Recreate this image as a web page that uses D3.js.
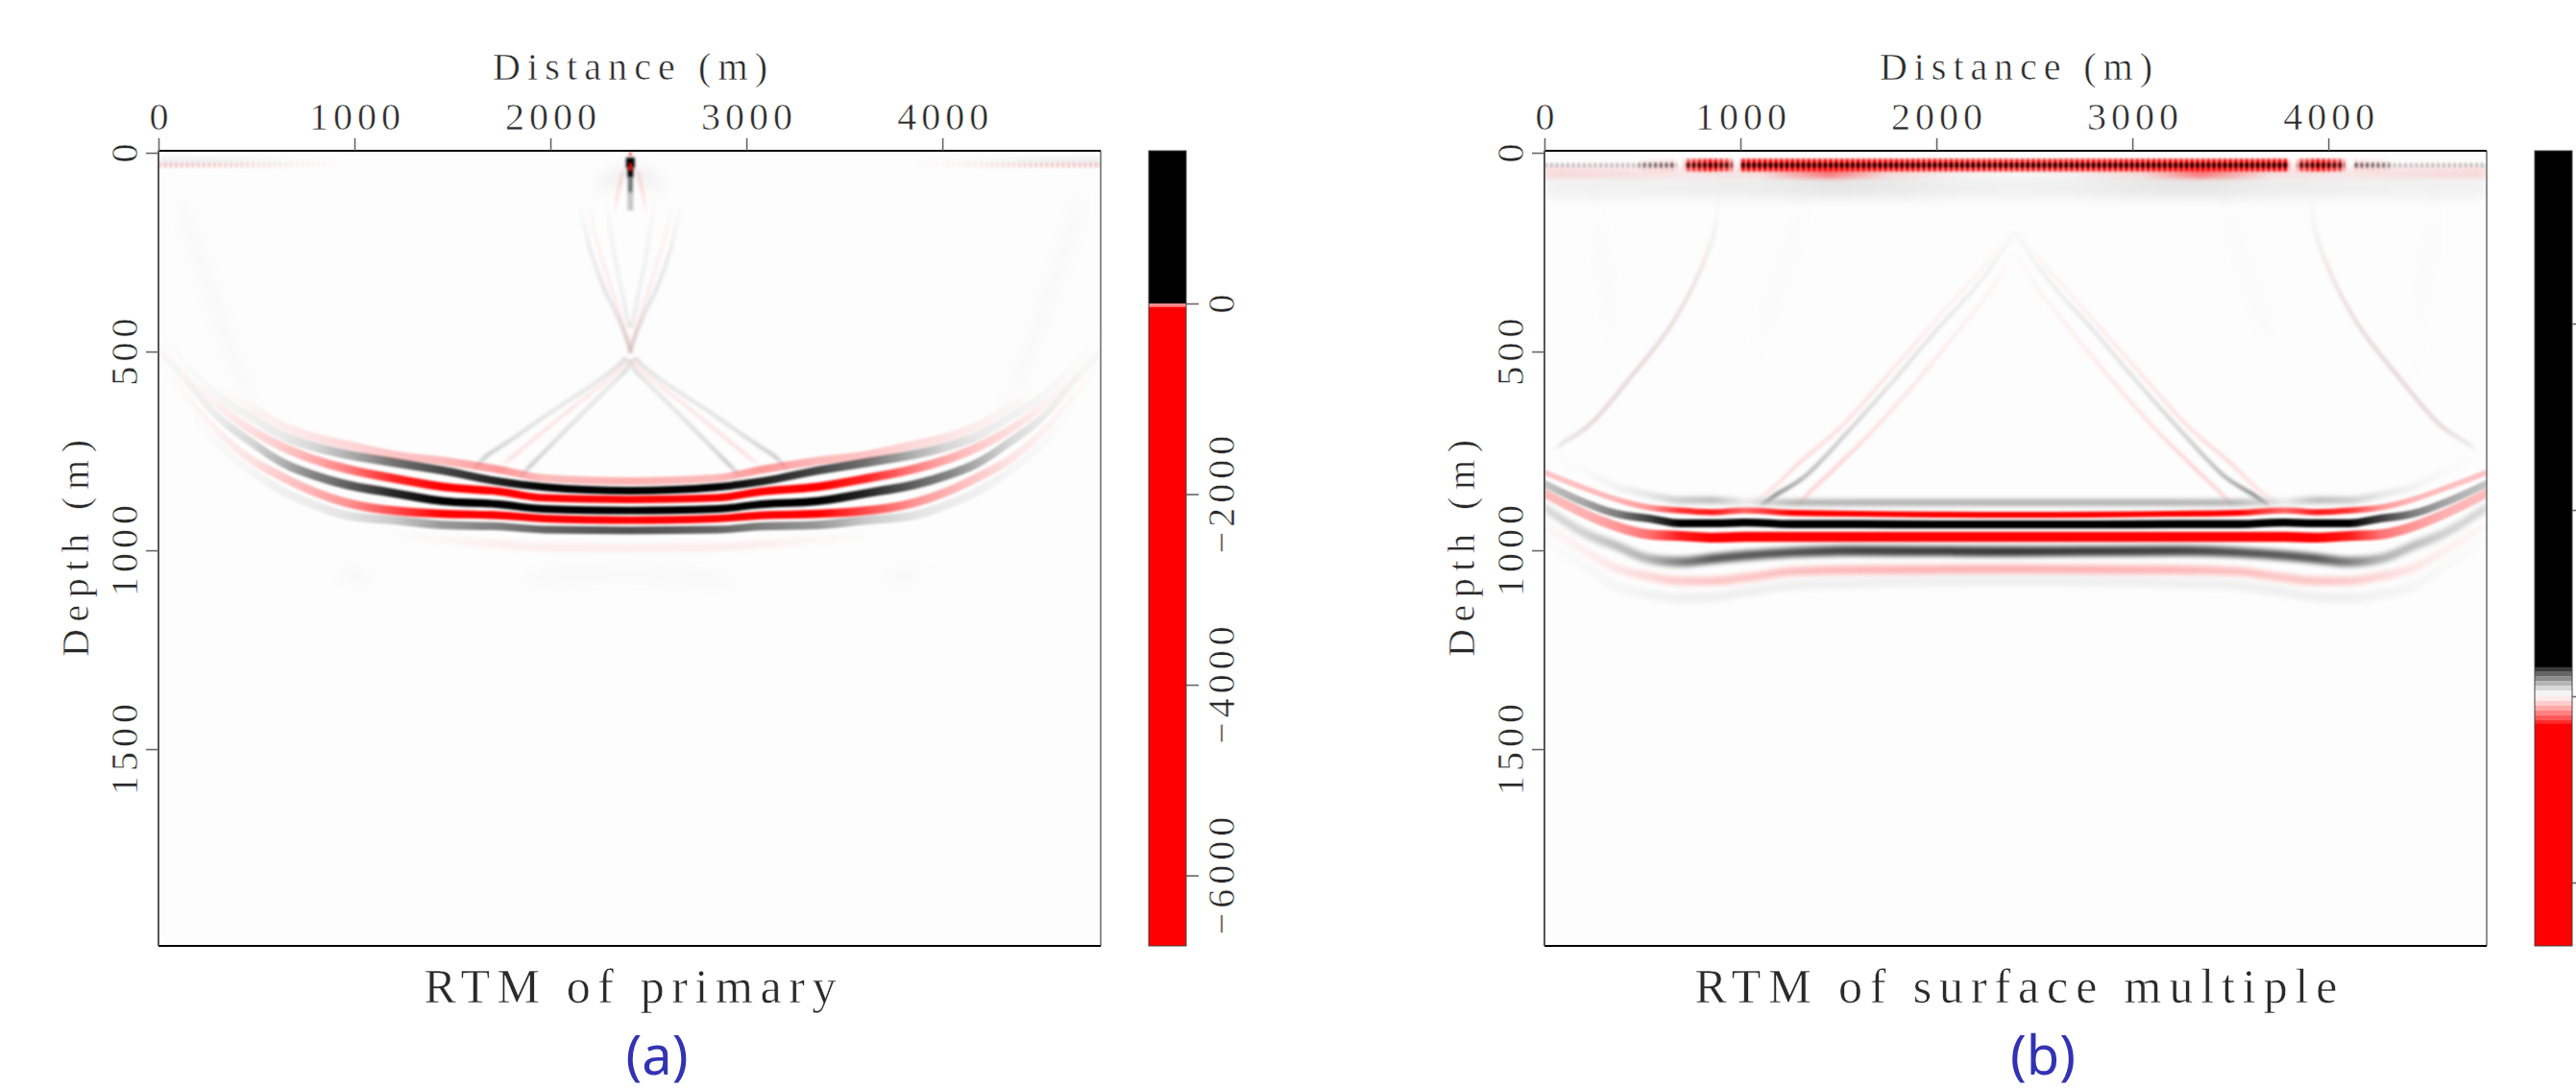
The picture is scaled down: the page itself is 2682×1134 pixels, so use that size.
<!DOCTYPE html>
<html>
<head>
<meta charset="utf-8">
<script src="https://cdn.jsdelivr.net/npm/d3@7"></script>
<style>
  html, body { margin: 0; background: #fff; }
  svg { display: block; }
  .tick-label, .axis-name, .panel-title {
    font-family: "Liberation Serif", serif;
    fill: #2a2a2a;
    stroke: #fff;
    stroke-width: 0.55px;
  }
  .panel-tag { font-family: "Noto Sans", sans-serif; fill: #3232b4; }
</style>
</head>
<body>
<div id="chart"></div>
<script>
// Axis ticks
const distanceTicks = [0, 1000, 2000, 3000, 4000];
const depthTicks = [0, 500, 1000, 1500];
const barTicksA = [0, -2000, -4000, -6000];
const barTicksB = [4000, 2000, 0, -2000]; // labels fall off the page in the picture

// Colorbars: [from, to, colour]
const barStepsA = [
  [1602, 0, '#000000'], [0, -35, '#ff8c8c'], [-35, -6740, '#ff0000'],
];
const barStepsB = [
  [5855, 310, '#000000'], [310, 260, '#3a3a3a'], [260, 210, '#666666'], [210, 160, '#8c8c8c'],
  [160, 110, '#b4b4b4'], [110, 60, '#d8d8d8'], [60, 0, '#f4f4f4'], [0, -50, '#ffeaea'],
  [-50, -100, '#ffcccc'], [-100, -150, '#ffa8a8'], [-150, -200, '#ff8080'], [-200, -250, '#ff5858'],
  [-250, -290, '#ff2c2c'], [-290, -2680, '#ff0000'],
];

// Panel (a), events picked on one distance grid
const distanceA = [0, 140, 300, 470, 630, 790, 960, 1200, 1450, 1740, 1970, 2408, 2846, 3076, 3366, 3616, 3856, 4026, 4186, 4346, 4516, 4676, 4816];
const bandWidthA = [24, 24, 24, 24, 24, 23, 23, 22, 21, 20, 19, 19, 19, 20, 21, 22, 23, 23, 24, 24, 24, 24, 24];
const pinkTopDepthA = [420, 510, 590, 640, 685, 715, 735, 760, 775, 797, 818, 826, 818, 797, 775, 760, 735, 715, 685, 640, 590, 510, 420];
const pinkTopAmpA = [0, 0, 0, .03, .06, .1, .14, .22, .26, .4, .26, .3, .26, .4, .26, .22, .14, .1, .06, .03, 0, 0, 0];
const black1DepthA = [440, 530, 610, 665, 711, 739, 759, 779, 799, 827, 841, 850, 841, 827, 799, 779, 759, 739, 711, 665, 610, 530, 440];
const black1AmpA = [0, .01, .03, .05, .08, .15, .3, .55, .72, .88, 1, 1, 1, .88, .72, .55, .3, .15, .08, .05, .03, .01, 0];
const red1DepthA = [470, 560, 635, 696, 739, 771, 795, 819, 840, 852, 868, 872, 868, 852, 840, 819, 795, 771, 739, 696, 635, 560, 470];
const red1AmpA = [0, .02, .05, .12, .2, .32, .5, .85, 1, 1, 1, 1, 1, 1, 1, .85, .5, .32, .2, .12, .05, .02, 0];
const black2DepthA = [495, 574, 663, 727, 779, 811, 835, 856, 876, 884, 896, 900, 896, 884, 876, 856, 835, 811, 779, 727, 663, 574, 495];
const black2AmpA = [.02, .03, .07, .15, .3, .48, .62, .85, 1, 1, 1, 1, 1, 1, 1, .85, .62, .48, .3, .15, .07, .03, .02];
const red2DepthA = [530, 610, 700, 771, 815, 852, 880, 900, 908, 912, 920, 924, 920, 912, 908, 900, 880, 852, 815, 771, 700, 610, 530];
const red2AmpA = [0, .02, .05, .1, .2, .3, .42, .7, 1, 1, 1, 1, 1, 1, 1, .7, .42, .3, .2, .1, .05, .02, 0];
const gray3DepthA = [560, 640, 730, 800, 850, 885, 912, 924, 936, 940, 948, 950, 948, 940, 936, 924, 912, 885, 850, 800, 730, 640, 560];
const gray3AmpA = [0, 0, .02, .03, .05, .07, .1, .2, .4, .5, .6, .68, .6, .5, .4, .2, .1, .07, .05, .03, .02, 0, 0];
const pinkLowDepthA = [600, 680, 770, 840, 890, 925, 945, 960, 972, 985, 992, 994, 992, 985, 972, 960, 945, 925, 890, 840, 770, 680, 600];
const pinkLowAmpA = [0, 0, 0, 0, 0, 0, 0, .01, .03, .06, .07, .07, .07, .06, .03, .01, 0, 0, 0, 0, 0, 0, 0];

// Panel (a), thin arms below the crossing: [distance, depth, strength]
const armGrayOuterLA = [[1600, 800, 0], [1663, 767, .18], [1800, 722, .12], [1979, 660, .09], [2208, 586, .08], [2333, 540, .1], [2385, 515, .1]];
const armPinkLA = [[1740, 790, 0], [1800, 767, .1], [2066, 660, .08], [2255, 586, .07], [2365, 540, .07], [2395, 518, .08]];
const armGrayInnerLA = [[1840, 815, 0], [1893, 790, .18], [2024, 725, .12], [2154, 660, .09], [2312, 583, .08], [2396, 540, .12], [2406, 520, .06]];
const armGrayOuterRA = [[2431, 515, .1], [2483, 540, .1], [2608, 586, .08], [2837, 660, .09], [3016, 722, .12], [3153, 767, .18], [3216, 800, 0]];
const armPinkRA = [[2421, 518, .08], [2451, 540, .07], [2561, 586, .07], [2750, 660, .08], [3016, 767, .1], [3076, 790, 0]];
const armGrayInnerRA = [[2410, 520, .06], [2420, 540, .12], [2504, 583, .08], [2662, 660, .09], [2792, 725, .12], [2923, 790, .18], [2976, 815, 0]];
// Panel (a), strands above the crossing
const upGrayLA = [[2130, 120, 0], [2170, 180, .03], [2200, 240, .06], [2270, 337, .09], [2340, 410, .09], [2396, 478, .12], [2412, 505, .06]];
const upPinkLA = [[2190, 120, 0], [2210, 170, .03], [2240, 230, .04], [2310, 340, .06], [2394, 470, .08], [2410, 500, .06]];
const upInnerLA = [[2280, 120, 0], [2300, 180, .03], [2320, 240, .04], [2360, 340, .05], [2402, 440, .07]];
const upGrayRA = [[2404, 505, .06], [2420, 478, .12], [2476, 410, .09], [2546, 337, .09], [2616, 240, .06], [2646, 180, .03], [2686, 120, 0]];
const upPinkRA = [[2406, 500, .06], [2422, 470, .08], [2506, 340, .06], [2576, 230, .04], [2606, 170, .03], [2626, 120, 0]];
const upInnerRA = [[2414, 440, .07], [2456, 340, .05], [2496, 240, .04], [2516, 180, .03], [2536, 120, 0]];
const nearPinkLA = [[2320, 150, 0], [2340, 110, .09], [2365, 60, .12], [2385, 35, 0]];
const nearPinkRA = [[2431, 35, 0], [2451, 60, .12], [2476, 110, .09], [2496, 150, 0]];
const smudgeLA = [[2200, 90, 0], [2300, 70, .05], [2375, 45, .07]];
const smudgeRA = [[2441, 45, .07], [2516, 70, .05], [2616, 90, 0]];
const faintLA = [[80, 80, 0], [140, 170, .02], [280, 370, .022], [420, 560, .018], [540, 680, 0]];
const faintRA = [[4276, 680, 0], [4396, 560, .018], [4536, 370, .022], [4676, 170, .02], [4736, 80, 0]];
const lensLA = [[860, 1045, 0], [1000, 1065, .025], [1150, 1085, 0]];
const lensMidA = [[1800, 1090, 0], [2000, 1065, .025], [2400, 1060, .02], [2800, 1070, .025], [3000, 1095, 0]];
const lensRA = [[3650, 1085, 0], [3800, 1065, .025], [3950, 1045, 0]];
// Panel (a), source spike: [distance, top depth, bottom depth, strength]
const spikeBlackA = [[2408, 12, 38, 1], [2408, 38, 62, 1], [2408, 62, 100, .55], [2408, 100, 145, .22]];
const spikeRedA = [[2408, -2, 8, .6], [2408, 26, 46, 1]];
// Panel (a), surface streak
const streakDistA = [0, 300, 700, 1000, 3816, 4116, 4516, 4816];
const streakPinkA = [.22, .18, .05, 0, 0, .05, .18, .22];
const streakGrayA = [.06, .05, .01, 0, 0, .01, .05, .06];

// Panel (b), events picked on one distance grid
const distanceB = [0, 206, 368, 532, 695, 859, 1023, 1268, 1595, 2000, 2400, 2800, 3205, 3532, 3777, 3941, 4105, 4268, 4432, 4594, 4808];
const gray1DepthB = [760, 800, 840, 860, 874, 874, 878, 880, 880, 880, 880, 880, 880, 880, 878, 874, 874, 860, 840, 800, 760];
const gray1AmpB = [0, .02, .05, .1, .22, .28, .08, .3, .32, .32, .32, .32, .32, .3, .08, .28, .22, .1, .05, .02, 0];
const red1DepthB = [804, 844, 872, 892, 900, 904, 900, 906, 908, 910, 911, 910, 908, 906, 900, 904, 900, 892, 872, 844, 804];
const red1AmpB = [.22, .25, .28, .4, .8, .9, .6, 1, 1, 1, 1, 1, 1, 1, .6, .9, .8, .4, .28, .25, .22];
const blackDepthB = [832, 880, 908, 920, 932, 932, 930, 934, 934, 935, 935, 935, 934, 934, 930, 932, 932, 920, 908, 880, 832];
const blackAmpB = [.22, .35, .5, .75, 1, 1, 1, 1, 1, 1, 1, 1, 1, 1, 1, 1, 1, .75, .5, .35, .22];
const red2DepthB = [856, 908, 940, 960, 964, 968, 966, 966, 966, 966, 966, 966, 966, 966, 966, 968, 964, 960, 940, 908, 856];
const red2AmpB = [.25, .3, .4, .55, .9, 1, 1, 1, 1, 1, 1, 1, 1, 1, 1, 1, .9, .55, .4, .3, .25];
const gray2DepthB = [892, 957, 989, 1021, 1029, 1021, 1013, 1005, 1001, 1002, 1003, 1002, 1001, 1005, 1013, 1021, 1029, 1021, 989, 957, 892];
const gray2AmpB = [.15, .18, .25, .3, .5, .65, .65, .68, .75, .78, .8, .78, .75, .68, .65, .65, .5, .3, .25, .18, .15];
const pinkDepthB = [936, 1001, 1045, 1065, 1077, 1077, 1069, 1053, 1049, 1048, 1047, 1048, 1049, 1053, 1069, 1077, 1077, 1065, 1045, 1001, 936];
const pinkAmpB = [.03, .06, .1, .15, .2, .22, .22, .25, .28, .3, .3, .3, .28, .25, .22, .22, .2, .15, .1, .06, .03];
const faintDepthB = [975, 1040, 1090, 1110, 1120, 1118, 1105, 1088, 1082, 1078, 1077, 1078, 1082, 1088, 1105, 1118, 1120, 1110, 1090, 1040, 975];
const faintAmpB = [.01, .02, .03, .04, .05, .05, .05, .05, .05, .05, .05, .05, .05, .05, .05, .05, .05, .04, .03, .02, .01];

// Panel (b), thin arms: [distance, depth, strength]
const archGrayLB = [[1090, 890, 0], [1176, 862, .4], [1327, 815, .25], [1552, 700, .15], [1778, 575, .1], [2003, 445, .08], [2229, 320, .05], [2398, 200, .02]];
const archPinkOutLB = [[1050, 880, 0], [1150, 850, .1], [1300, 780, .12], [1513, 690, .1], [1750, 560, .08], [2000, 420, .05], [2250, 280, .03], [2370, 200, 0]];
const archPinkInLB = [[1280, 890, 0], [1340, 860, .14], [1500, 785, .14], [1692, 690, .1], [1900, 575, .08], [2100, 455, .05], [2300, 330, .03], [2400, 240, 0]];
const archGrayRB = [[2402, 200, .02], [2571, 320, .05], [2797, 445, .08], [3022, 575, .1], [3248, 700, .15], [3473, 815, .25], [3624, 862, .4], [3710, 890, 0]];
const archPinkOutRB = [[2430, 200, 0], [2550, 280, .03], [2800, 420, .05], [3050, 560, .08], [3287, 690, .1], [3500, 780, .12], [3650, 850, .1], [3750, 880, 0]];
const archPinkInRB = [[2400, 240, 0], [2500, 330, .03], [2700, 455, .05], [2900, 575, .08], [3108, 690, .1], [3300, 785, .14], [3460, 860, .14], [3520, 890, 0]];
const sideGrayLB = [[40, 750, 0], [86, 732, .07], [238, 680, .08], [463, 551, .08], [650, 431, .07], [801, 292, .05], [875, 190, .03], [900, 80, 0]];
const sidePinkLB = [[60, 745, 0], [210, 695, .06], [430, 570, .06], [625, 450, .05], [780, 310, .04], [855, 200, .02], [880, 120, 0]];
const sideGrayRB = [[3900, 80, 0], [3925, 190, .03], [3999, 292, .05], [4150, 431, .07], [4337, 551, .08], [4562, 680, .08], [4714, 732, .07], [4760, 750, 0]];
const sidePinkRB = [[3920, 120, 0], [3945, 200, .02], [4020, 310, .04], [4175, 450, .05], [4370, 570, .06], [4590, 695, .06], [4740, 745, 0]];
const faintLB = [[230, 80, 0], [270, 200, .012], [340, 400, .012], [380, 560, 0]];
const faintMidLB = [[1360, 80, 0], [1280, 200, .012], [1150, 400, .012], [1020, 560, 0]];
const faintRB = [[4420, 560, 0], [4460, 400, .012], [4530, 200, .012], [4570, 80, 0]];
const faintMidRB = [[3440, 80, 0], [3520, 200, .012], [3650, 400, .012], [3780, 560, 0]];

// Panel (b), surface streak
const streakDistB = [0, 470, 500, 662, 681, 711, 725, 850, 950, 965, 998, 1010, 1176, 1703, 2400, 3097, 3624, 3790, 3802, 3835, 3850, 3950, 4075, 4089, 4119, 4138, 4300, 4330, 4808];
const streakBlackB = [.22, .22, .5, .6, 0, 0, .8, .9, .8, 0, 0, 1, 1, 1, 1, 1, 1, 1, 0, 0, .8, .9, .8, 0, 0, .6, .5, .22, .22];
const streakRedB = [0, 0, .05, .1, 0, 0, .6, 1, .6, 0, 0, 1, 1, 1, .9, 1, 1, 1, 0, 0, .6, 1, .6, 0, 0, .1, .05, 0, 0];
const streakBodyB = [0, 0, .03, .06, 0, 0, .35, .6, .35, 0, 0, .6, .6, .6, .55, .6, .6, .6, 0, 0, .35, .6, .35, 0, 0, .06, .03, 0, 0];
const blobDistB = [0, 400, 700, 1100, 1450, 1750, 2100, 2400, 2700, 3050, 3350, 3700, 4100, 4400, 4808];
const blobPinkB = [.12, .1, .06, .08, .5, .1, .02, 0, .02, .1, .5, .08, .06, .1, .12];
const blobGrayB = [.05, .05, .06, .07, .1, .09, .06, .05, .06, .09, .1, .07, .06, .05, .05];

// Tables for the drawing code
const eventsA = [
  { color: '#000', depth: gray3DepthA, amp: gray3AmpA, thick: bandWidthA, blur: 'soft' },
  { color: '#f00', depth: pinkLowDepthA, amp: pinkLowAmpA, thick: bandWidthA, blur: 'broad' },
  { color: '#f00', depth: pinkTopDepthA, amp: pinkTopAmpA, thick: bandWidthA, blur: 'soft' },
  { color: '#000', depth: black1DepthA, amp: black1AmpA, thick: bandWidthA, blur: 'soft' },
  { color: '#f00', depth: red1DepthA, amp: red1AmpA, thick: bandWidthA, blur: 'soft' },
  { color: '#000', depth: black2DepthA, amp: black2AmpA, thick: bandWidthA, blur: 'soft' },
  { color: '#f00', depth: red2DepthA, amp: red2AmpA, thick: bandWidthA, blur: 'soft' },
];
const armsA = [
  { color: '#000', rows: faintLA, wide: true }, { color: '#000', rows: faintRA, wide: true },
  { color: '#000', rows: lensLA, wide: true }, { color: '#000', rows: lensMidA, wide: true }, { color: '#000', rows: lensRA, wide: true },
  { color: '#000', rows: armGrayOuterLA }, { color: '#f00', rows: armPinkLA }, { color: '#000', rows: armGrayInnerLA },
  { color: '#000', rows: armGrayOuterRA }, { color: '#f00', rows: armPinkRA }, { color: '#000', rows: armGrayInnerRA },
  { color: '#000', rows: upGrayLA }, { color: '#f00', rows: upPinkLA }, { color: '#000', rows: upInnerLA },
  { color: '#000', rows: upGrayRA }, { color: '#f00', rows: upPinkRA }, { color: '#000', rows: upInnerRA },
  { color: '#f00', rows: nearPinkLA }, { color: '#f00', rows: nearPinkRA },
  { color: '#000', rows: smudgeLA, wide: true }, { color: '#000', rows: smudgeRA, wide: true },
];
const eventsB = [
  { color: '#000', depth: faintDepthB, amp: faintAmpB, thick: 26, blur: 'broad' },
  { color: '#f00', depth: pinkDepthB, amp: pinkAmpB, thick: 22, blur: 'broad' },
  { color: '#000', depth: gray2DepthB, amp: gray2AmpB, thick: 24, blur: 'broad' },
  { color: '#f00', depth: red2DepthB, amp: red2AmpB, thick: 25, blur: 'soft' },
  { color: '#000', depth: gray1DepthB, amp: gray1AmpB, thick: 16, blur: 'broad' },
  { color: '#f00', depth: red1DepthB, amp: red1AmpB, thick: 15, blur: 'soft' },
  { color: '#000', depth: blackDepthB, amp: blackAmpB, thick: 20, blur: 'soft' },
];
const armsB = [
  { color: '#000', rows: faintLB, wide: true }, { color: '#000', rows: faintRB, wide: true },
  { color: '#000', rows: faintMidLB, wide: true }, { color: '#000', rows: faintMidRB, wide: true },
  { color: '#000', rows: sideGrayLB }, { color: '#f00', rows: sidePinkLB },
  { color: '#000', rows: sideGrayRB }, { color: '#f00', rows: sidePinkRB },
  { color: '#f00', rows: archPinkOutLB }, { color: '#f00', rows: archPinkInLB }, { color: '#000', rows: archGrayLB },
  { color: '#f00', rows: archPinkOutRB }, { color: '#f00', rows: archPinkInRB }, { color: '#000', rows: archGrayRB },
];

const width = 2682;
const height = 1134;
const panel = { l: 165, r: 1146, t: 157, b: 985 };
const bar = { l: 1196, r: 1235 };
const labelFont = 40;

const svg = d3.select('#chart').append('svg').attr('width', width).attr('height', height);
const defs = svg.append('defs');

function addBlur(id, sigma) {
  defs.append('filter')
    .attr('id', id)
    .attr('filterUnits', 'userSpaceOnUse')
    .attr('x', 0).attr('y', 0).attr('width', width).attr('height', height)
    .attr('color-interpolation-filters', 'sRGB')
    .append('feGaussianBlur')
    .attr('stdDeviation', sigma);
}
addBlur('soft', 1.2);
addBlur('broad', 2.8);
addBlur('thin', 1.5);
addBlur('bead', 0.9);
addBlur('wide', 7);

let gradCount = 0;
// horizontal strength ramp, one stop per picked point
function ampGradient(color, stops, x) {
  const id = `amp${gradCount++}`;
  const sorted = [...stops].sort((a, b) => d3.ascending(a[0], b[0]));
  const x0 = x(sorted[0][0]);
  const x1 = x(sorted[sorted.length - 1][0]);
  const grad = defs.append('linearGradient')
    .attr('id', id)
    .attr('gradientUnits', 'userSpaceOnUse')
    .attr('x1', x0).attr('y1', 0).attr('x2', x1).attr('y2', 0);
  grad.selectAll('stop')
    .data(sorted)
    .join('stop')
    .attr('offset', (d) => (x(d[0]) - x0) / (x1 - x0))
    .attr('stop-color', color)
    .attr('stop-opacity', (d) => d[1]);
  return `url(#${id})`;
}

function drawPanel(opt) {
  const g = svg.append('g').attr('transform', `translate(${opt.dx}, 0)`);
  const x = d3.scaleLinear().domain([0, 4808]).range([panel.l, panel.r]);
  const y = d3.scaleLinear().domain([-5, 1995]).range([panel.t, panel.b]);

  const clipId = `clip${opt.dx}`;
  defs.append('clipPath').attr('id', clipId)
    .append('rect')
    .attr('x', panel.l).attr('y', panel.t)
    .attr('width', panel.r - panel.l).attr('height', panel.b - panel.t);

  g.append('rect')
    .attr('x', panel.l).attr('y', panel.t)
    .attr('width', panel.r - panel.l).attr('height', panel.b - panel.t)
    .attr('fill', '#fdfdfd');

  const image = g.append('g').attr('clip-path', `url(#${clipId})`);

  // thin arms go under the bands
  opt.arms.forEach((arm) => {
    const line = d3.line()
      .x((d) => x(d[0]))
      .y((d) => y(d[1]))
      .curve(d3.curveCatmullRom);
    image.append('path')
      .datum(arm.rows)
      .attr('d', line)
      .attr('fill', 'none')
      .attr('stroke', ampGradient(arm.color, arm.rows.map((d) => [d[0], d[2]]), x))
      .attr('stroke-width', arm.wide ? 14 : 4.5)
      .attr('filter', arm.wide ? 'url(#wide)' : 'url(#thin)');
  });

  // bands
  opt.events.forEach((ev) => {
    const half = (i) => (Array.isArray(ev.thick) ? ev.thick[i] : ev.thick) / 2;
    const area = d3.area()
      .x((d, i) => x(opt.distance[i]))
      .y0((d, i) => y(d - half(i)))
      .y1((d, i) => y(d + half(i)))
      .curve(d3.curveMonotoneX);
    image.append('path')
      .datum(ev.depth)
      .attr('d', area)
      .attr('fill', ampGradient(ev.color, opt.distance.map((d, i) => [d, ev.amp[i]]), x))
      .attr('filter', `url(#${ev.blur})`);
  });

  opt.extra(image, x, y);

  // frame
  g.append('line').attr('x1', panel.l).attr('x2', panel.r).attr('y1', panel.t).attr('y2', panel.t)
    .attr('stroke', '#000').attr('stroke-width', 2);
  g.append('line').attr('x1', panel.l).attr('x2', panel.r).attr('y1', panel.b).attr('y2', panel.b)
    .attr('stroke', '#000').attr('stroke-width', 2);
  g.append('line').attr('x1', panel.l).attr('x2', panel.l).attr('y1', panel.t).attr('y2', panel.b)
    .attr('stroke', '#555').attr('stroke-width', 2);
  g.append('line').attr('x1', panel.r).attr('x2', panel.r).attr('y1', panel.t).attr('y2', panel.b)
    .attr('stroke', '#222').attr('stroke-width', 1);

  // axes
  const xAxis = g.append('g')
    .attr('transform', `translate(0, ${panel.t})`)
    .call(d3.axisTop(x).tickValues(distanceTicks).tickSize(13).tickPadding(9).tickFormat(d3.format('d')));
  const yAxis = g.append('g')
    .attr('transform', `translate(${panel.l}, 0)`)
    .call(d3.axisLeft(y).tickValues(depthTicks).tickSize(13).tickFormat(d3.format('d')));
  [xAxis, yAxis].forEach((a) => {
    a.select('.domain').remove();
    a.selectAll('.tick line').attr('stroke', '#666').attr('stroke-width', 1.6);
    a.selectAll('text')
      .attr('class', 'tick-label')
      .attr('font-size', labelFont)
      .style('letter-spacing', '5px');
  });
  xAxis.selectAll('text').attr('dx', 2.5);
  yAxis.selectAll('text')
    .attr('x', 2.5).attr('dy', 0).attr('y', 0)
    .attr('text-anchor', 'middle')
    .attr('transform', 'translate(-22, 0) rotate(-90)');

  // axis names
  g.append('text').attr('class', 'axis-name')
    .attr('x', 656).attr('y', 83)
    .attr('text-anchor', 'middle')
    .attr('font-size', labelFont)
    .attr('textLength', opt.xNameLen)
    .text('Distance (m)');
  g.append('text').attr('class', 'axis-name')
    .attr('transform', 'translate(92, 571) rotate(-90)')
    .attr('text-anchor', 'middle')
    .attr('font-size', labelFont)
    .attr('textLength', 226)
    .text('Depth (m)');

  // title and tag
  g.append('text').attr('class', 'panel-title')
    .attr('x', 656).attr('y', 1044)
    .attr('text-anchor', 'middle')
    .attr('font-size', 50)
    .attr('textLength', opt.titleLen)
    .text(opt.title);
  g.append('text').attr('class', 'panel-tag')
    .attr('x', 684).attr('y', 1119)
    .attr('text-anchor', 'middle')
    .attr('font-size', 56)
    .text(opt.tag);

  // colorbar
  const v = d3.scaleLinear().domain(opt.barDomain).range([panel.t, panel.b]);
  g.append('g').selectAll('rect')
    .data(opt.barSteps)
    .join('rect')
    .attr('x', bar.l)
    .attr('width', bar.r - bar.l)
    .attr('y', (d) => v(d[0]))
    .attr('height', (d) => v(d[1]) - v(d[0]))
    .attr('fill', (d) => d[2]);
  g.append('rect')
    .attr('x', bar.l).attr('y', panel.t)
    .attr('width', bar.r - bar.l).attr('height', panel.b - panel.t)
    .attr('fill', 'none').attr('stroke', '#444').attr('stroke-width', 1);
  const barAxis = g.append('g')
    .attr('transform', `translate(${bar.r}, 0)`)
    .call(d3.axisRight(v).tickValues(opt.barTicks).tickSize(13)
      .tickFormat(opt.barLabels ? (d) => String(d).replace('-', '\u2212') : ''));
  barAxis.select('.domain').remove();
  barAxis.selectAll('.tick line').attr('stroke', '#666').attr('stroke-width', 1.6);
  barAxis.selectAll('text')
    .attr('class', 'tick-label')
    .attr('font-size', labelFont)
    .style('letter-spacing', '5px')
    .attr('x', 2.5).attr('y', 0).attr('dy', 0)
    .attr('text-anchor', 'middle')
    .attr('transform', 'translate(50, 0) rotate(-90)');
}

// strip along the surface, strength ramps as in the bands
function surfaceLine(image, x, y, depth, color, stops, w, dash, filter) {
  const line = d3.line().x((d) => x(d[0])).y(() => y(depth));
  image.append('path')
    .datum(stops)
    .attr('d', line)
    .attr('fill', 'none')
    .attr('stroke', ampGradient(color, stops, x))
    .attr('stroke-width', w)
    .attr('stroke-dasharray', dash)
    .attr('filter', `url(#${filter})`);
}

drawPanel({
  dx: 0,
  distance: distanceA,
  events: eventsA,
  arms: armsA,
  title: 'RTM of primary',
  titleLen: 429,
  xNameLen: 286,
  tag: '(a)',
  barDomain: [1602, -6740],
  barSteps: barStepsA,
  barTicks: barTicksA,
  barLabels: true,
  extra: (image, x, y) => {
    const zip = (a) => streakDistA.map((d, i) => [d, a[i]]);
    surfaceLine(image, x, y, 22, '#000', zip(streakGrayA), 8, null, 'broad');
    surfaceLine(image, x, y, 31, '#f00', zip(streakPinkA), 5, '3 2.7', 'bead');
    image.selectAll('.spike-k')
      .data(spikeBlackA)
      .join('line')
      .attr('x1', (d) => x(d[0])).attr('x2', (d) => x(d[0]))
      .attr('y1', (d) => y(d[1])).attr('y2', (d) => y(d[2]))
      .attr('stroke', '#000')
      .attr('stroke-opacity', (d) => d[3])
      .attr('stroke-width', (d, i) => [9, 6, 5, 6][i])
      .attr('filter', 'url(#thin)');
    image.selectAll('.spike-r')
      .data(spikeRedA)
      .join('line')
      .attr('x1', (d) => x(d[0])).attr('x2', (d) => x(d[0]))
      .attr('y1', (d) => y(d[1])).attr('y2', (d) => y(d[2]))
      .attr('stroke', '#f00')
      .attr('stroke-opacity', (d) => d[3])
      .attr('stroke-width', 3)
      .attr('filter', 'url(#bead)');
  },
});

drawPanel({
  dx: 1443,
  distance: distanceB,
  events: eventsB,
  arms: armsB,
  title: 'RTM of surface multiple',
  titleLen: 669,
  xNameLen: 284,
  tag: '(b)',
  barDomain: [5855, -2680],
  barSteps: barStepsB,
  barTicks: barTicksB,
  barLabels: false,
  extra: (image, x, y) => {
    const zipS = (a) => streakDistB.map((d, i) => [d, a[i]]);
    const zipB = (a) => blobDistB.map((d, i) => [d, a[i]]);
    surfaceLine(image, x, y, 85, '#000', zipB(blobGrayB), 22, null, 'wide');
    surfaceLine(image, x, y, 50, '#f00', zipB(blobPinkB), 12, null, 'broad');
    // pale body first, then the beads
    surfaceLine(image, x, y, 31, '#f00', zipS(streakBodyB), 9, null, 'broad');
    surfaceLine(image, x, y, 31, '#f00', zipS(streakRedB), 13, '3.4 2.3', 'bead');
    surfaceLine(image, x, y, 31, '#000', zipS(streakBlackB), 5, '3.2 2.5', 'bead');
  },
});
</script>
</body>
</html>
